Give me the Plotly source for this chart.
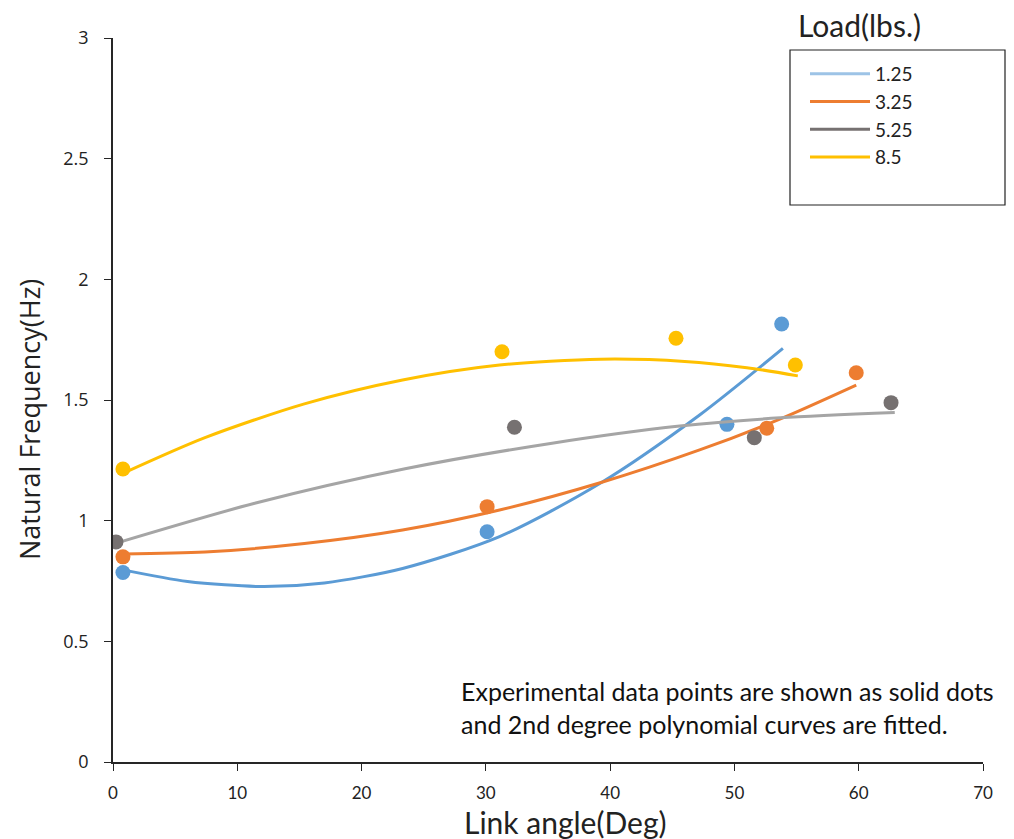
import plotly.graph_objects as go

# Measured natural frequency vs link angle for each load
loads = ["1.25", "3.25", "5.25", "8.5"]
angle_125 = [0.8, 30.1, 49.4, 53.8]
freq_125 = [0.785, 0.954, 1.399, 1.815]
angle_325 = [0.8, 30.1, 52.6, 59.8]
freq_325 = [0.85, 1.058, 1.383, 1.613]
angle_525 = [0.24, 32.3, 51.6, 62.6]
freq_525 = [0.912, 1.387, 1.344, 1.489]
angle_850 = [0.8, 31.3, 45.3, 54.9]
freq_850 = [1.214, 1.70, 1.756, 1.645]

# 2nd degree polynomial trendlines, sampled along each curve
fit_x_125 = [0.8, 6.0, 12.0, 17.0, 23.3, 31.1, 39.2, 47.2, 53.9]
fit_y_125 = [0.796, 0.748, 0.727, 0.742, 0.802, 0.934, 1.155, 1.438, 1.714]
fit_x_325 = [0.8, 7.4, 15.4, 23.3, 31.1, 39.2, 47.2, 53.7, 59.8]
fit_y_325 = [0.862, 0.870, 0.905, 0.961, 1.044, 1.157, 1.293, 1.422, 1.562]
fit_x_525 = [0.2, 11.4, 23.5, 35.2, 45.6, 53.7, 62.9]
fit_y_525 = [0.906, 1.072, 1.215, 1.320, 1.392, 1.426, 1.448]
fit_x_850 = [0.8, 7.4, 15.4, 23.3, 31.1, 39.2, 46.0, 51.0, 55.1]
fit_y_850 = [1.196, 1.344, 1.484, 1.583, 1.645, 1.669, 1.660, 1.634, 1.600]

x_ticks = [0, 10, 20, 30, 40, 50, 60, 70]
y_ticks = [0, 0.5, 1, 1.5, 2, 2.5, 3]

series = [
    (angle_125, freq_125, fit_x_125, fit_y_125, "#5B9BD5", "#5B9BD5", "#9DC3E6"),
    (angle_325, freq_325, fit_x_325, fit_y_325, "#ED7D31", "#ED7D31", "#ED7D31"),
    (angle_525, freq_525, fit_x_525, fit_y_525, "#767171", "#A5A5A5", "#767171"),
    (angle_850, freq_850, fit_x_850, fit_y_850, "#FFC000", "#FFC000", "#FFC000"),
]

fig = go.Figure()
for (xs, ys, fx, fy, dot_c, line_c, leg_c), name in zip(series, loads):
    fig.add_trace(go.Scatter(x=fx, y=fy, mode="lines",
                             line=dict(color=line_c, width=3, shape="spline", smoothing=0.8),
                             showlegend=False, hoverinfo="skip"))
    fig.add_trace(go.Scatter(x=xs, y=ys, mode="markers",
                             marker=dict(color=dot_c, size=15), showlegend=False))
    # legend entry
    fig.add_trace(go.Scatter(x=[None], y=[None], mode="lines", name=name,
                             line=dict(color=leg_c, width=3)))

axis_common = dict(showgrid=False, zeroline=False, showline=True, linecolor="#262626",
                   linewidth=1.5, ticks="outside", ticklen=7, tickcolor="#262626")

fig.update_xaxes(range=[0, 70], tickvals=x_ticks, ticktext=[str(v) for v in x_ticks],
                 tickfont=dict(family="Lato", size=17, color="#222222"),
                 ticklabelstandoff=8, **axis_common)
fig.update_yaxes(range=[0, 3], tickvals=y_ticks, ticktext=[f"{v:g}" for v in y_ticks],
                 tickfont=dict(family="Open Sans", size=18, color="#222222"),
                 ticklabelstandoff=12, **axis_common)

W, H = 1014, 839
L, R, T, B = 113, 31, 38, 77
pw, ph = W - L - R, H - T - B


def px(xp):
    return (xp - L) / pw


def py(yp):
    return (H - B - yp) / ph


fig.update_layout(
    width=W, height=H,
    margin=dict(l=L, r=R, t=T, b=B),
    plot_bgcolor="white", paper_bgcolor="white",
    showlegend=True,
    legend=dict(x=px(805), y=py(55), xanchor="left", yanchor="top",
                bgcolor="rgba(0,0,0,0)", borderwidth=0,
                font=dict(family="Lato", size=19, color="#222222"),
                itemwidth=60, tracegroupgap=0),
    shapes=[dict(type="rect", xref="paper", yref="paper",
                 x0=px(790), x1=px(1005), y0=py(205), y1=py(50),
                 line=dict(color="#222222", width=1.2), fillcolor="rgba(0,0,0,0)")],
    annotations=[
        dict(text="Load(lbs.)", xref="paper", yref="paper", x=px(796), y=py(25),
             xanchor="left", yanchor="middle", showarrow=False,
             font=dict(family="Lato", size=30, color="#222222")),
        dict(text="Natural Frequency(Hz)", xref="paper", yref="paper", x=px(29), y=py(420),
             xanchor="center", yanchor="middle", textangle=-90, showarrow=False,
             font=dict(family="Open Sans", size=27, color="#222222")),
        dict(text="Link angle(Deg)", xref="paper", yref="paper", x=px(565), y=py(822),
             xanchor="center", yanchor="middle", showarrow=False,
             font=dict(family="Lato", size=30, color="#222222")),
        dict(text="Experimental data points are shown as solid dots<br>"
                  "and 2nd degree polynomial curves are fitted.",
             xref="paper", yref="paper", x=px(459), y=py(707),
             xanchor="left", yanchor="middle", align="left", showarrow=False,
             font=dict(family="Lato", size=25, color="#111111")),
    ],
)

fig.write_html("out.html")
